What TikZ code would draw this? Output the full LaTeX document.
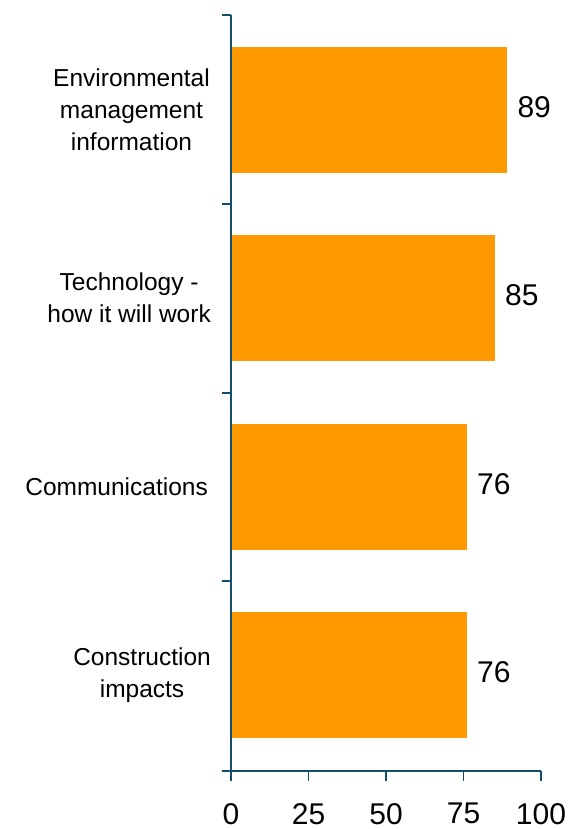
\documentclass[tikz,border=0pt]{standalone}
\usepackage{fontspec}
\setmainfont{Liberation Sans}
\definecolor{barorange}{HTML}{FF9900}
\definecolor{axisblue}{RGB}{18,78,108}
\tikzset{
  bar/.style={fill=barorange, draw=none, inner sep=0pt, minimum height=126pt, anchor=west},
  axisline/.style={draw=axisblue, line width=1.6pt},
  cat/.style={anchor=east, align=center, inner sep=0pt, font=\fontsize{24.5}{32}\selectfont},
  val/.style={anchor=west, inner sep=0pt, font=\fontsize{30}{36}\selectfont},
  ticklab/.style={anchor=north, inner sep=0pt, font=\fontsize{30}{36}\selectfont}
}
\begin{document}
\begin{tikzpicture}[x=1pt,y=-1pt]
\useasboundingbox (0,0) rectangle (585,829);
% bars
\node[bar, minimum width=275.9pt] (b1) at (231,110) {};
\node[bar, minimum width=263.5pt] (b2) at (231,298) {};
\node[bar, minimum width=235.6pt] (b3) at (231,487) {};
\node[bar, minimum width=235.6pt] (b4) at (231,675) {};
% axes
\coordinate (ytop) at (231,15);
\coordinate (origin) at (231,771);
\coordinate (xleft) at (222,771);
\coordinate (xend) at (541,771);
\draw[axisline] (ytop) -- (origin);
\draw[axisline] (xleft) -- (xend);
\foreach \y in {15,204,393,581} {
  \draw[axisline] (222,\y) -- (231,\y);
}
\foreach \x/\l in {231/0,308.5/25,386/50,463.5/75,541/100} {
  \draw[axisline] (\x,771) -- (\x,781);
  \node[ticklab] (t\l) at (\x,803) {\l};
}
% category labels
\node[cat] (c1) at (210,110) {Environmental\\management\\information};
\node[cat] (c2) at (211,298) {Technology -\\how it will work};
\node[cat] (c3) at (208,487) {Communications};
\node[cat] (c4) at (211,675) {Construction\\impacts};
% value labels
\node[val] (v1) at ([xshift=10pt,yshift=3pt]b1.east) {89};
\node[val] (v2) at ([xshift=10pt,yshift=3pt]b2.east) {85};
\node[val] (v3) at ([xshift=10pt,yshift=3pt]b3.east) {76};
\node[val] (v4) at ([xshift=10pt,yshift=3pt]b4.east) {76};
\end{tikzpicture}
\end{document}
